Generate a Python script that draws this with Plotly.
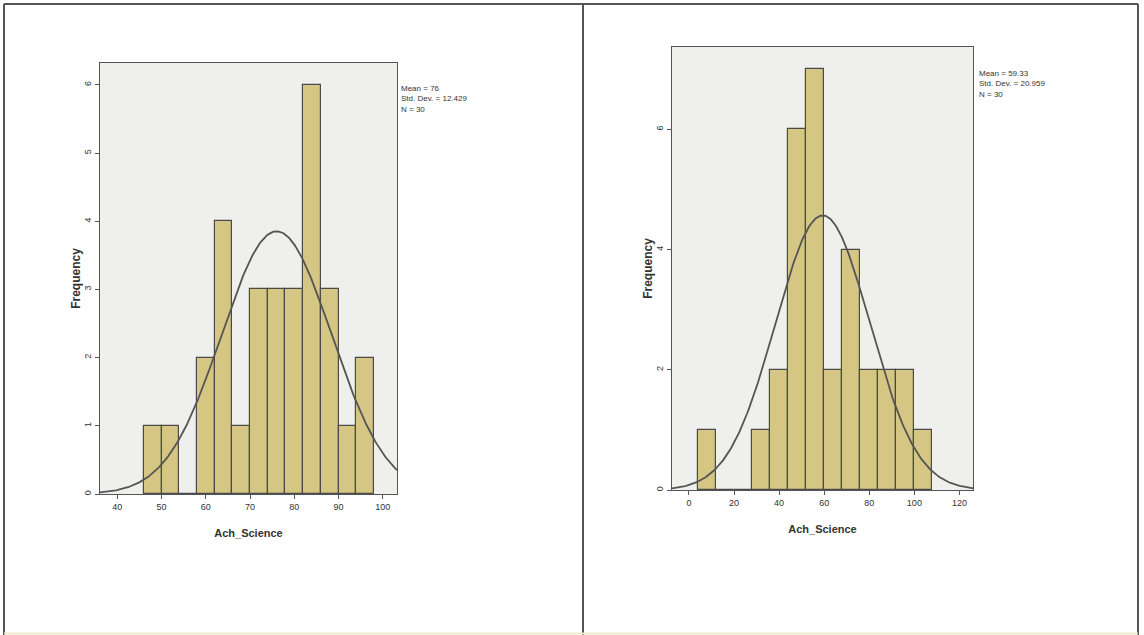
import numpy as np
import plotly.graph_objects as go

# ---- data ----
left_bin_left = [46, 50, 54, 58, 62, 66, 70, 74, 78, 82, 86, 90, 94]
left_counts = [1, 1, 0, 2, 4, 1, 3, 3, 3, 6, 3, 1, 2]
left_bin_width = 4
left_mean, left_sd, left_n = 76, 12.429, 30

right_bin_left = [4, 12, 20, 28, 36, 44, 52, 60, 68, 76, 84, 92, 100]
right_counts = [1, 0, 0, 1, 2, 6, 7, 2, 4, 2, 2, 2, 1]
right_bin_width = 8
right_mean, right_sd, right_n = 59.33, 20.959, 30

left_xticks = [40, 50, 60, 70, 80, 90, 100]
left_yticks = [0, 1, 2, 3, 4, 5, 6]
right_xticks = [0, 20, 40, 60, 80, 100, 120]
right_yticks = [0, 2, 4, 6]

x_title = "Ach_Science"
y_title = "Frequency"

W, H = 1144, 635
BAR = "#d6c683"
EDGE = "#4a4a4a"
CURVE = "#555555"
TICKFONT = dict(family="Liberation Sans Narrow, Liberation Sans, Arial", size=9, color="#333")
TITLEFONT = dict(family="Liberation Sans, Arial", size=11, color="#333")

fig = go.Figure()


def add_panel(idx, bins, counts, bw, mean, sd, n, xr):
    xa = "x" if idx == 1 else "x2"
    ya = "y" if idx == 1 else "y2"
    centers = [b + bw / 2 for b in bins]
    fig.add_trace(go.Bar(x=centers, y=counts, width=bw, marker=dict(color=BAR, line=dict(color=EDGE, width=1.2)),
                         xaxis=xa, yaxis=ya, showlegend=False))
    xs = np.linspace(xr[0], xr[1], 300)
    ys = n * bw / (sd * np.sqrt(2 * np.pi)) * np.exp(-0.5 * ((xs - mean) / sd) ** 2)
    fig.add_trace(go.Scatter(x=xs, y=ys, mode="lines", line=dict(color=CURVE, width=1.8),
                             xaxis=xa, yaxis=ya, showlegend=False, hoverinfo="skip"))


lxr = [36.1, 103.2]
rxr = [-7.5, 126]
add_panel(1, left_bin_left, left_counts, left_bin_width, left_mean, left_sd, left_n, lxr)
add_panel(2, right_bin_left, right_counts, right_bin_width, right_mean, right_sd, right_n, rxr)

axis_common = dict(showline=True, linecolor="#555", linewidth=1, mirror=True, ticks="outside",
                   ticklen=4, tickcolor="#555", showgrid=False, zeroline=False, tickfont=TICKFONT)

fig.update_layout(
    width=W, height=H, margin=dict(l=0, r=0, t=0, b=0),
    paper_bgcolor="white", plot_bgcolor="#efefed", bargap=0,
    xaxis=dict(domain=[100 / W, 397 / W], range=lxr, tickvals=left_xticks, anchor="y",
               title=dict(text="<b>" + x_title + "</b>", font=TITLEFONT, standoff=18), **axis_common),
    yaxis=dict(domain=[1 - 494 / H, 1 - 63 / H], range=[0, 6.32], tickvals=left_yticks, anchor="x", tickangle=-90,
               title=dict(text="<b>" + y_title + "</b>", font=dict(TITLEFONT, size=12), standoff=0), **axis_common),
    xaxis2=dict(domain=[672 / W, 973 / W], range=rxr, tickvals=right_xticks, anchor="y2",
                title=dict(text="<b>" + x_title + "</b>", font=TITLEFONT, standoff=18), **axis_common),
    yaxis2=dict(domain=[1 - 490 / H, 1 - 47 / H], range=[0, 7.37], tickvals=right_yticks, anchor="x2", tickangle=-90,
                title=dict(text="<b>" + y_title + "</b>", font=dict(TITLEFONT, size=12), standoff=0), **axis_common),
)

stat_font = dict(family="Liberation Sans Narrow, Liberation Sans, Arial", size=8, color="#333")
fig.add_annotation(xref="paper", yref="paper", x=399 / W, y=1 - 82 / H, xanchor="left", yanchor="top", align="left",
                   showarrow=False, font=stat_font,
                   text=f"Mean = {left_mean}<br>Std. Dev. = {left_sd}<br>N = {left_n}")
fig.add_annotation(xref="paper", yref="paper", x=977 / W, y=1 - 67 / H, xanchor="left", yanchor="top", align="left",
                   showarrow=False, font=stat_font,
                   text=f"Mean = {right_mean}<br>Std. Dev. = {right_sd}<br>N = {right_n}")

# panel frames
frame = dict(color="#555", width=2)
fig.add_shape(type="line", xref="paper", yref="paper", x0=4 / W, x1=1138 / W, y0=1 - 4 / H, y1=1 - 4 / H, line=frame)
fig.add_shape(type="line", xref="paper", yref="paper", x0=4 / W, x1=4 / W, y0=0, y1=1 - 4 / H, line=frame)
fig.add_shape(type="line", xref="paper", yref="paper", x0=1138 / W, x1=1138 / W, y0=0, y1=1 - 4 / H, line=frame)
fig.add_shape(type="line", xref="paper", yref="paper", x0=583 / W, x1=583 / W, y0=0, y1=1 - 4 / H, line=frame)
fig.add_shape(type="line", xref="paper", yref="paper", x0=4 / W, x1=1138 / W, y0=1.5 / H, y1=1.5 / H,
              line=dict(color="#efe9c8", width=2))

fig.write_html("out.html", config={"displayModeBar": False},
               post_script="document.body.style.margin='0';document.body.style.overflow='hidden';")
